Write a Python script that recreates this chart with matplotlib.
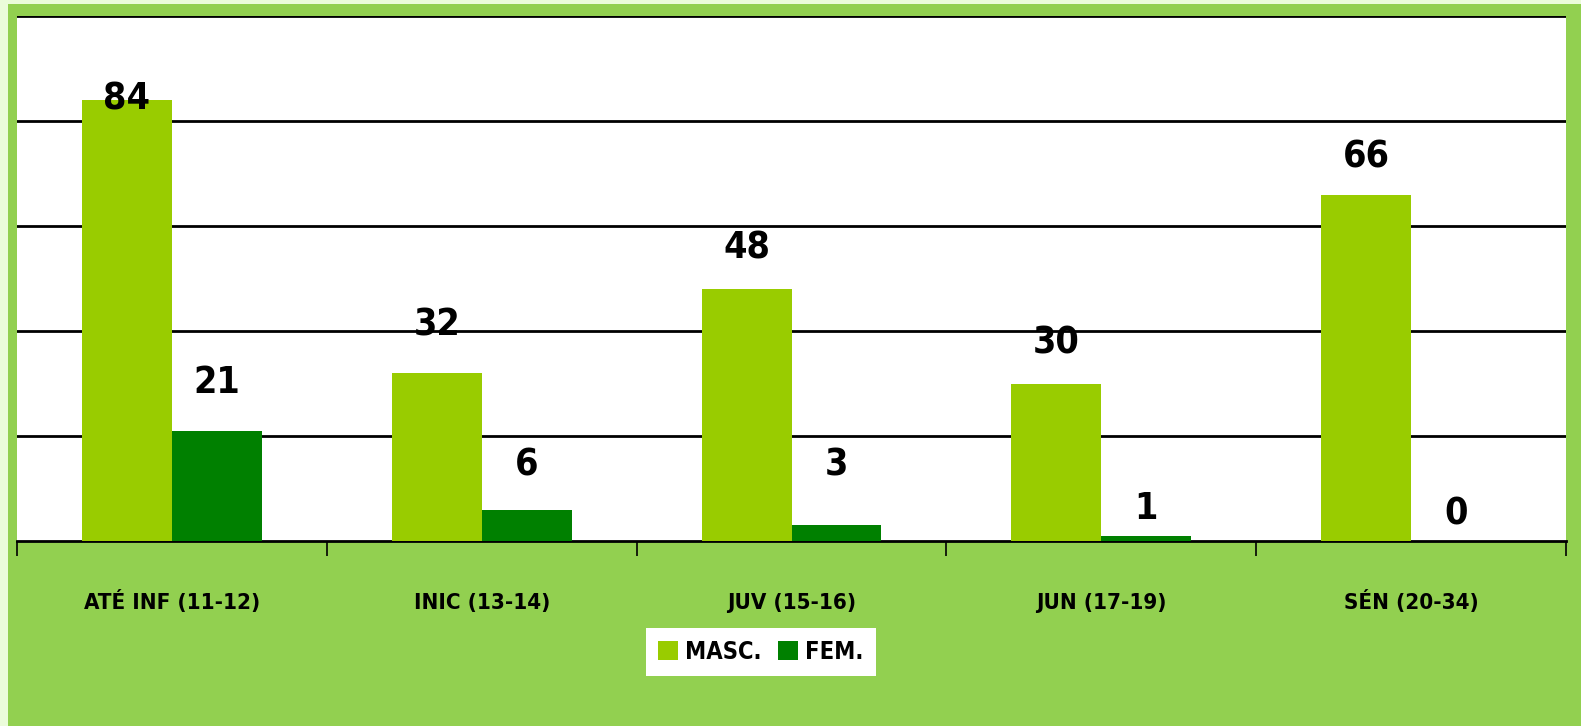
import matplotlib
matplotlib.use("Agg")
import matplotlib.pyplot as plt
from matplotlib.patches import Rectangle
from matplotlib.font_manager import FontProperties
import matplotlib.transforms as mtransforms
import numpy as np

categories = ["ATÉ INF (11-12)", "INIC (13-14)", "JUV (15-16)", "JUN (17-19)", "SÉN (20-34)"]
masc = [84, 32, 48, 30, 66]
fem = [21, 6, 3, 1, 0]
series_names = ["MASC.", "FEM."]
# label centre heights (data units) as placed in the reference
masc_label_y = [84.0, 41.1, 55.8, 37.7, 73.0]
fem_label_y = [30.1, 14.3, 14.3, 6.1, 5.1]

C_MASC = "#99cc00"
C_FEM = "#008000"
C_BG = "#92d050"
C_OUT = "#ebfcda"

W, H = 1581, 726
fig = plt.figure(figsize=(W / 100, H / 100), dpi=100, facecolor=C_OUT)
fig.patches.append(Rectangle((8 / W, 0), 1, 1 - 4 / H, transform=fig.transFigure,
                             facecolor=C_BG, edgecolor="none", zorder=-10))

font = dict(family="DejaVu Sans", stretch="condensed", weight="bold")

ax = fig.add_axes([17 / W, 185 / H, 1549 / W, 525 / H])
ax.set_facecolor("white")
x = np.arange(len(categories)) + 0.5
bw = 0.29
ax.bar(x - bw / 2, masc, bw, color=C_MASC, label=series_names[0], zorder=3)
ax.bar(x + bw / 2, fem, bw, color=C_FEM, label=series_names[1], zorder=3)

for xi, yl, v in zip(x - bw / 2, masc_label_y, masc):
    ax.text(xi, yl, str(v), ha="center", va="center", fontsize=27, color="black", zorder=5, **font)
for xi, yl, v in zip(x + bw / 2, fem_label_y, fem):
    ax.text(xi, yl, str(v), ha="center", va="center", fontsize=27, color="black", zorder=5, **font)

ax.set_xlim(0, len(categories))
ax.set_ylim(0, 100)
ax.set_yticks([20, 40, 60, 80, 100])
ax.yaxis.grid(True, color="black", linewidth=2, zorder=1)
ax.tick_params(axis="y", left=False, labelleft=False)
for s in ["left", "right", "top"]:
    ax.spines[s].set_visible(False)
ax.spines["bottom"].set_linewidth(2)
ax.set_xticks(np.arange(len(categories) + 1))
ax.set_xticklabels([])
ax.tick_params(axis="x", which="major", length=11, width=1.2, color="black", direction="out")

# category labels: baseline 68 px below the axis line
trans = mtransforms.blended_transform_factory(ax.transData, ax.transAxes) + \
    mtransforms.ScaledTranslation(0, -68 / 100, fig.dpi_scale_trans)
for xi, c in zip(x, categories):
    ax.text(xi, 0, c, transform=trans, ha="center", va="baseline", fontsize=16,
            color="black", **font)

leg = fig.legend(loc="center", bbox_to_anchor=(761 / W, 74 / H), ncol=2, frameon=True,
                 fancybox=False, edgecolor="none", facecolor="white", framealpha=1,
                 prop=FontProperties(size=17, **font), handlelength=0.85, handleheight=0.85,
                 handletextpad=0.3, columnspacing=0.7, borderpad=0.5, borderaxespad=0)

fig.savefig("out.png", dpi=100, facecolor=fig.get_facecolor())
